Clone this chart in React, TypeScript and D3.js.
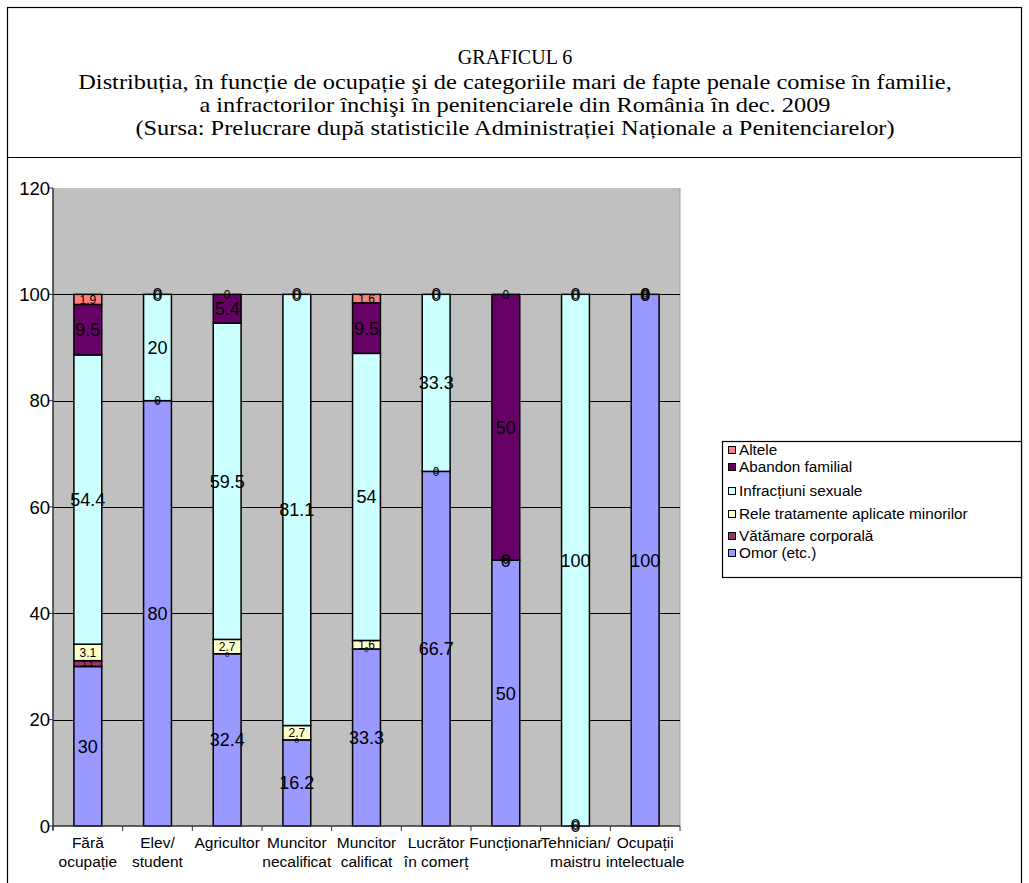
import React, { useEffect, useRef } from "react";
import * as d3 from "d3";

const categories = [
  ["Fără", "ocupație"],
  ["Elev/", "student"],
  ["Agricultor"],
  ["Muncitor", "necalificat"],
  ["Muncitor", "calificat"],
  ["Lucrător", "în comerț"],
  ["Funcționar"],
  ["Tehnician/", "maistru"],
  ["Ocupații", "intelectuale"],
];

const seriesNames = [
  "Omor (etc.)",
  "Vătămare corporală",
  "Rele tratamente aplicate minorilor",
  "Infracțiuni sexuale",
  "Abandon familial",
  "Altele",
];

const omor = [30, 80, 32.4, 16.2, 33.3, 66.7, 50, 0, 100];
const vatamare = [1.1, 0, 0, 0, 0, 0, 0, 0, 0];
const releTratamente = [3.1, 0, 2.7, 2.7, 1.6, 0, 0, 0, 0];
const infractiuniSexuale = [54.4, 20, 59.5, 81.1, 54, 33.3, 0, 100, 0];
const abandonFamilial = [9.5, 0, 5.4, 0, 9.5, 0, 50, 0, 0];
const altele = [1.9, 0, 0, 0, 1.6, 0, 0, 0, 0];

const yTicks = [0, 20, 40, 60, 80, 100, 120];

const titleLines = [
  "GRAFICUL 6",
  "Distribuția, în funcție de ocupație şi de categoriile mari de fapte penale comise în familie,",
  "a infractorilor închişi în penitenciarele din România în dec. 2009",
  "(Sursa: Prelucrare după statisticile Administrației Naționale a Penitenciarelor)",
];

const colors = ["#9999FF", "#993366", "#FFFFCC", "#CCFFFF", "#660066", "#FF8080"];
const labelSizes = [18, 8, 12, 18, 18, 12];

export default function App() {
  const ref = useRef<SVGSVGElement>(null);

  useEffect(() => {
    const svg = d3.select(ref.current);
    svg.selectAll("*").remove();
    const W = 1029, H = 883;
    const left = 53, right = 680, top = 188, bottom = 826;
    const sans = "Arial, 'Liberation Sans', sans-serif";
    const serif = "'Times New Roman', 'Liberation Serif', serif";

    svg.append("rect").attr("x", 0).attr("y", 0).attr("width", W).attr("height", H).attr("fill", "#fff");
    // frame
    svg.append("rect").attr("x", 7.5).attr("y", 7.5).attr("width", 1014).attr("height", 900)
      .attr("fill", "none").attr("stroke", "#000").attr("stroke-width", 1.2);
    svg.append("line").attr("x1", 7.5).attr("x2", 1021.5).attr("y1", 157.5).attr("y2", 157.5)
      .attr("stroke", "#000").attr("stroke-width", 1.2);

    // title
    const tY = [64, 89, 112, 135];
    const tScale = [1, 1.22, 1.22, 1.22];
    titleLines.forEach((t, i) => {
      svg.append("text").attr("transform", `translate(515,${tY[i]}) scale(${tScale[i]},1)`)
        .attr("text-anchor", "middle")
        .attr("font-family", serif).attr("font-size", 20).attr("fill", "#000").text(t);
    });

    const x = d3.scaleBand<number>().domain(d3.range(categories.length))
      .range([left, right]).paddingInner(0.6).paddingOuter(0.3);
    const y = d3.scaleLinear().domain([0, 120]).range([bottom, top]);
    const step = x.step();

    // plot area
    svg.append("rect").attr("x", left).attr("y", top).attr("width", right - left).attr("height", bottom - top)
      .attr("fill", "#C0C0C0");
    svg.append("line").attr("x1", right).attr("x2", right).attr("y1", top).attr("y2", bottom)
      .attr("stroke", "#a0a0a0").attr("stroke-width", 1);

    // gridlines
    yTicks.filter((t) => t > 0 && t < 120).forEach((t) => {
      svg.append("line").attr("x1", left).attr("x2", right).attr("y1", Math.round(y(t)) + 0.5).attr("y2", Math.round(y(t)) + 0.5)
        .attr("stroke", "#000").attr("stroke-width", 1);
    });

    // stacked data
    const rows = categories.map((_, i) => ({
      i,
      s0: omor[i], s1: vatamare[i], s2: releTratamente[i], s3: infractiuniSexuale[i], s4: abandonFamilial[i], s5: altele[i],
    }));
    const keys = ["s0", "s1", "s2", "s3", "s4", "s5"];
    const stacked = d3.stack<any>().keys(keys)(rows);

    stacked.forEach((layer, si) => {
      layer.forEach((d, ci) => {
        const h = y(d[0]) - y(d[1]);
        if (h <= 0) return;
        svg.append("rect").attr("x", x(ci)!).attr("y", y(d[1])).attr("width", x.bandwidth()).attr("height", h)
          .attr("fill", colors[si]).attr("stroke", "#000").attr("stroke-width", 1.5);
      });
    });

    // axes
    svg.append("line").attr("x1", left).attr("x2", left).attr("y1", top).attr("y2", bottom + 4)
      .attr("stroke", "#333").attr("stroke-width", 1.5);
    svg.append("line").attr("x1", left).attr("x2", right).attr("y1", bottom).attr("y2", bottom)
      .attr("stroke", "#333").attr("stroke-width", 1.5);
    yTicks.forEach((t) => {
      svg.append("line").attr("x1", left - 4).attr("x2", left).attr("y1", y(t)).attr("y2", y(t))
        .attr("stroke", "#333").attr("stroke-width", 1);
      svg.append("text").attr("x", left - 3).attr("y", y(t) + 6.5).attr("text-anchor", "end")
        .attr("font-family", sans).attr("font-size", 18.5).attr("fill", "#000").text(String(t));
    });
    for (let i = 0; i <= categories.length; i++) {
      const xx = left + i * step;
      svg.append("line").attr("x1", xx).attr("x2", xx).attr("y1", bottom).attr("y2", bottom + 5)
        .attr("stroke", "#333").attr("stroke-width", 1);
    }
    categories.forEach((lines, i) => {
      const cx = x(i)! + x.bandwidth() / 2;
      lines.forEach((ln, li) => {
        svg.append("text").attr("x", cx).attr("y", 848 + li * 19).attr("text-anchor", "middle")
          .attr("font-family", sans).attr("font-size", 15.5).attr("fill", "#000").text(ln);
      });
    });

    // data labels
    stacked.forEach((layer, si) => {
      layer.forEach((d, ci) => {
        const v = d[1] - d[0];
        const cy = (y(d[0]) + y(d[1])) / 2;
        const cx = x(ci)! + x.bandwidth() / 2;
        const fs = labelSizes[si];
        svg.append("text").attr("x", cx).attr("y", cy + fs * 0.36).attr("text-anchor", "middle")
          .attr("font-family", sans).attr("font-size", fs).attr("fill", "#000")
          .text(String(+v.toFixed(1)));
      });
    });

    // legend
    svg.append("rect").attr("x", 722.5).attr("y", 441.5).attr("width", 299).attr("height", 136)
      .attr("fill", "#fff").attr("stroke", "#000").attr("stroke-width", 1.2);
    const legendY = [450, 467, 491, 514, 536, 553];
    const legendOrder = [5, 4, 3, 2, 1, 0];
    legendOrder.forEach((si, k) => {
      const ly = legendY[k];
      svg.append("rect").attr("x", 728.5).attr("y", ly - 3.5).attr("width", 7).attr("height", 7)
        .attr("fill", colors[si]).attr("stroke", "#000").attr("stroke-width", 1);
      svg.append("text").attr("x", 739).attr("y", ly + 5).attr("font-family", sans).attr("font-size", 15.3)
        .attr("fill", "#000").text(seriesNames[si]);
    });
  }, []);

  return (
    <svg ref={ref} width={1029} height={883} style={{ position: "absolute", left: 0, top: 0, display: "block" }} />
  );
}
